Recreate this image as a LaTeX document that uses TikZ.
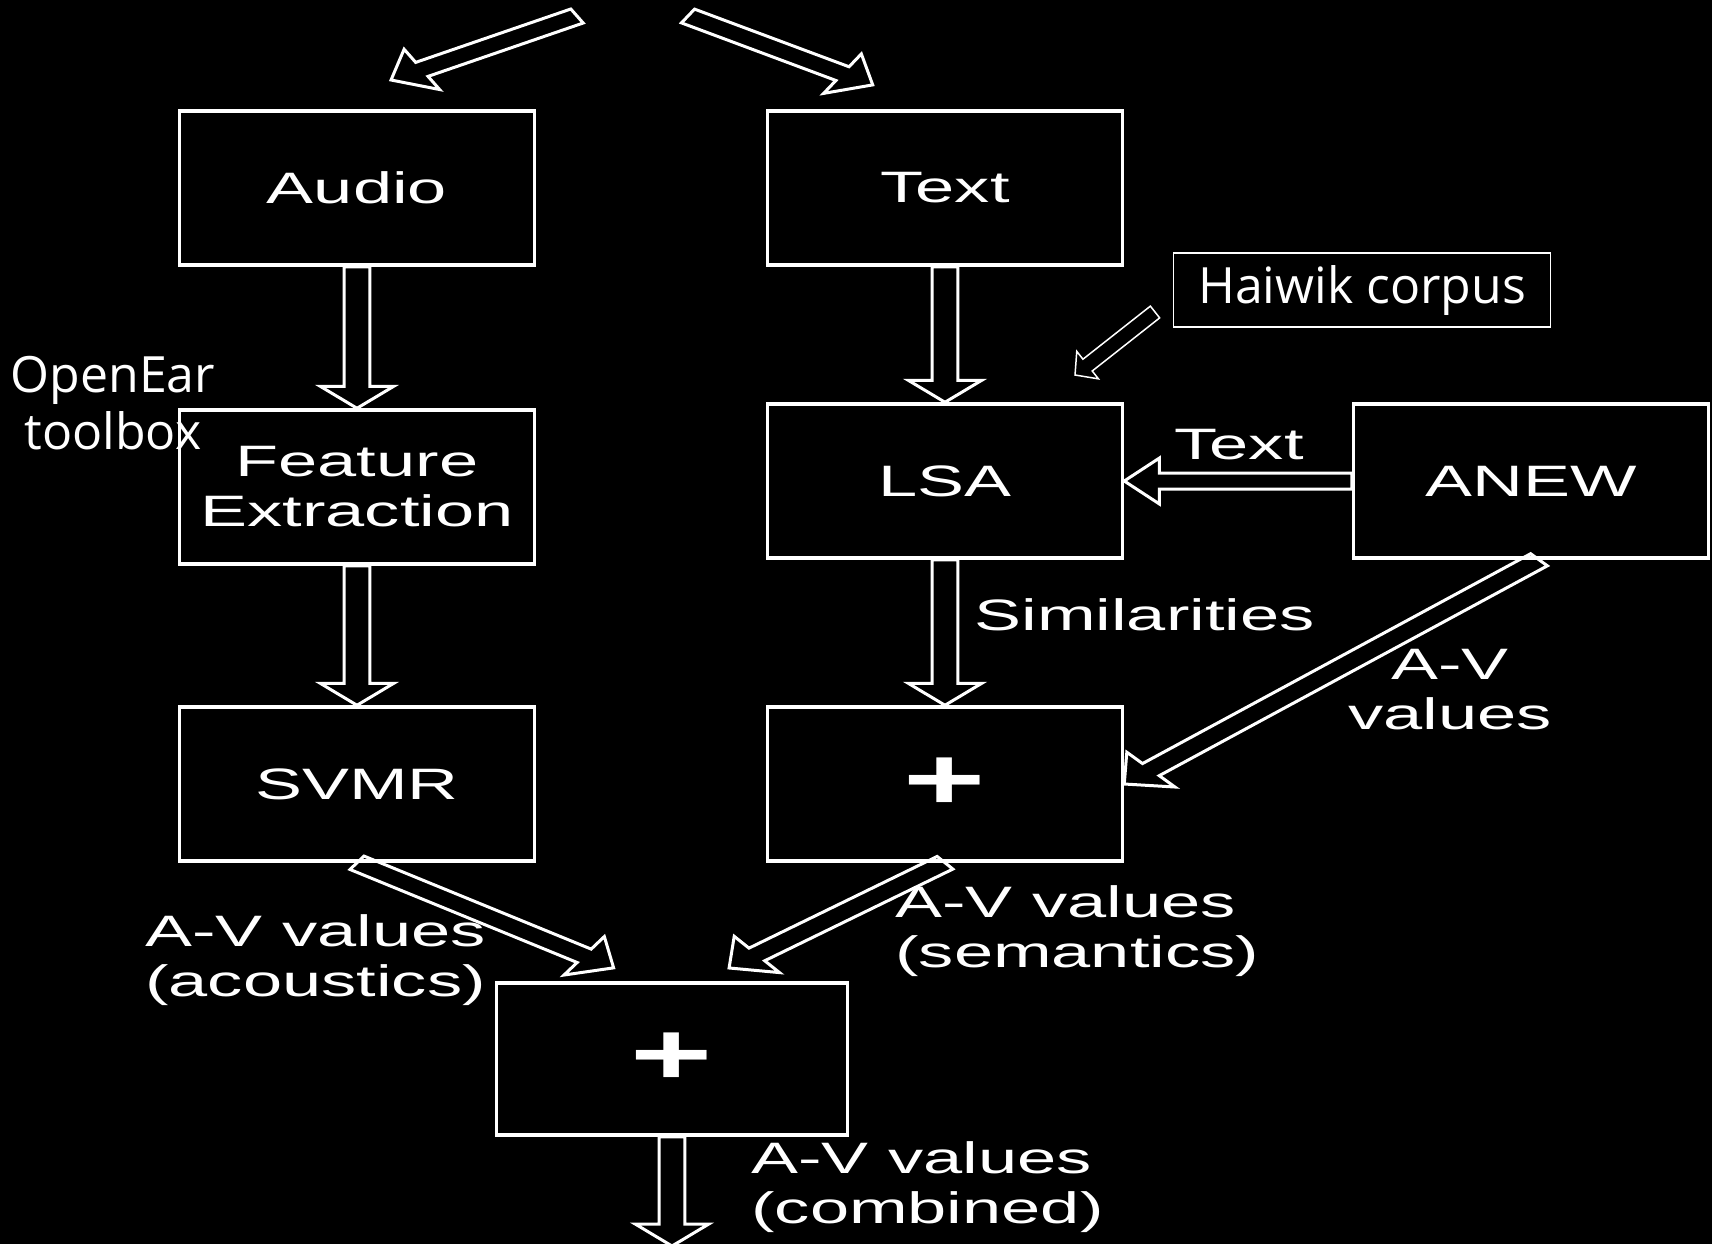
\documentclass[tikz,border=0pt]{standalone}
\usepackage{fontspec}
\setmainfont{Liberation Sans}[FakeStretch=1.6]
\newfontfamily\notefont{Open Sans}
\usetikzlibrary{calc}

% hollow block arrow: tail #2, tip #3, widened sideways by #4
\def\fatw{4pt}\def\fathw{11.5pt}\def\fathl{11pt}
\newcommand{\fatarrow}[4][]{%
  \path let \p1=(#2), \p2=(#3) in \pgfextra{%
    \pgfmathsetmacro\fatang{atan2((\y2)-(\y1),((\x2)-(\x1))/#4)}%
    \pgfmathsetmacro\fatlen{veclen(((\x2)-(\x1))/#4,(\y2)-(\y1))}%
    \xdef\fatang{\fatang}\xdef\fatlen{\fatlen}\xdef\fatx{\x1}\xdef\faty{\y1}};
  \begin{scope}[shift={(\fatx,\faty)},xscale=#4,rotate=\fatang]
    \draw[fat,#1] (0pt,-\fatw) -- ({\fatlen pt-\fathl},-\fatw) -- ({\fatlen pt-\fathl},-\fathw)
      -- (\fatlen pt,0pt) -- ({\fatlen pt-\fathl},\fathw) -- ({\fatlen pt-\fathl},\fatw) -- (0pt,\fatw) -- cycle;
  \end{scope}}

\begin{document}
\begin{tikzpicture}[x=0.5pt,y=-0.5pt,white]
\tikzset{every node/.style={font=\fontsize{22}{25}\selectfont},
  box/.style={draw, line width=1.75pt, minimum width=177.5pt, minimum height=77pt},
  sum/.style={box, font=\fontsize{44}{44}\selectfont\bfseries},
  lbl/.style={inner sep=0pt},
  note/.style={font=\notefont\fontsize{25}{28.5}\selectfont},
  fat/.style={draw, line width=1.5pt, line join=miter}}
\path[use as bounding box, fill=black] (0,0) rectangle (1712,1244);

\node[box] (audio) at (357,188) {Audio};
\node[box] (text) at (945,188) {Text};
\node[box, align=center] (feat) at (357,487) {Feature\\Extraction};
\node[box] (lsa) at (945,481) {LSA};
\node[box] (anew) at (1531,481) {ANEW};
\node[box] (svmr) at (357,784) {SVMR};
\node[sum] (plus1) at (945,784) {+};
\node[sum, minimum width=175.5pt, minimum height=76pt] (plus2) at (672,1059) {+};

\node[note, draw, line width=0.75pt, minimum width=188.5pt, minimum height=37pt] (haiwik) at (1362,290) {Haiwik corpus};
\node[note, align=center] (openear) at (113,403) {OpenEar\\toolbox};

\node[lbl, anchor=base] (lbltext) at (1239,459) {Text};
\node[lbl, anchor=base west] (lblsim) at (974,630) {Similarities};
\node[lbl, align=center] (lblanew) at (1450,690) {A-V\\values};
\node[lbl, anchor=west, align=left] (lblac) at (145,960) {A-V values\\(acoustics)};
\node[lbl, anchor=west, align=left] (lblsem) at (895,931) {A-V values\\(semantics)};
\node[lbl, anchor=west, align=left] (lblcomb) at (751,1187) {A-V values\\(combined)};

\coordinate (srcL) at (577,16);
\coordinate (inL) at (391,80);
\coordinate (srcR) at (688,16);
\coordinate (inR) at (873,85);
\coordinate (acin) at (614,968);
\coordinate (semin) at (729,968);
\coordinate (out) at (672,1246);
\coordinate (hwtail) at (1155,312);
\coordinate (hwtip) at (1075,375);

\fatarrow{srcL}{inL}{1.6}
\fatarrow{srcR}{inR}{1.6}
\foreach \a/\b in {audio/feat,text/lsa,feat/svmr,lsa/plus1} {
\fatarrow{\a.south}{\b.north}{1.6}
}
\fatarrow{anew.west}{lsa.east}{1.6}
\fatarrow{$(anew.south)+(8,0)$}{plus1.east}{1.6}
\fatarrow{svmr.south}{acin}{1.6}
\fatarrow{plus1.south}{semin}{1.6}
\fatarrow{plus2.south}{out}{1.6}
{\def\fatw{3.75pt}\def\fathw{8.75pt}\def\fathl{8pt}
\fatarrow[line width=0.75pt]{hwtail}{hwtip}{1}}

\end{tikzpicture}
\end{document}
